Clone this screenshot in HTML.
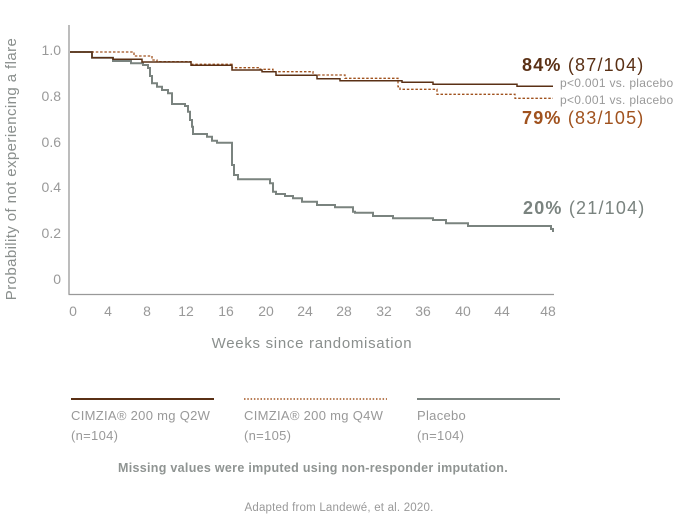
<!DOCTYPE html>
<html><head><meta charset="utf-8"><style>
html,body{margin:0;padding:0;background:#fff;}
svg{display:block;font-family:"Liberation Sans",sans-serif;}
</style></head><body>
<svg width="679" height="517" viewBox="0 0 679 517">
<g stroke="#999" stroke-width="1.3" fill="none">
<line x1="69" y1="25" x2="69" y2="294.5"/>
<line x1="68.5" y1="294.5" x2="554" y2="294.5"/>
</g>
<g fill="#999" font-size="14" text-anchor="end">
<text x="61" y="55">1.0</text><text x="61" y="101">0.8</text><text x="61" y="147">0.6</text>
<text x="61" y="192">0.4</text><text x="61" y="238">0.2</text><text x="61" y="284">0</text>
</g>
<g fill="#999" font-size="14" text-anchor="middle">
<text x="73" y="316">0</text><text x="108" y="316">4</text><text x="147" y="316">8</text>
<text x="186" y="316">12</text><text x="226" y="316">16</text><text x="266" y="316">20</text>
<text x="305" y="316">24</text><text x="344" y="316">28</text><text x="384" y="316">32</text>
<text x="423" y="316">36</text><text x="463" y="316">40</text><text x="502" y="316">44</text>
<text x="548" y="316">48</text>
</g>
<text x="312" y="348" fill="#8a8f8d" font-size="15" letter-spacing="0.7" text-anchor="middle">Weeks since randomisation</text>
<text transform="translate(16,169) rotate(-90)" fill="#8a8f8d" font-size="15" letter-spacing="0.4" text-anchor="middle">Probability of not experiencing a flare</text>

<path fill="none" stroke="#7a837f" stroke-width="2" d="M70,52 H92 V57.7 H113 V61 H131 V63.3 H143 V65 H148 V68 H150 V76 H152 V83.3 H157 V86.7 H162 V90 H168 V93.3 H172 V104 H185 V106 H188 V111.7 H190 V120 H192 V126.7 H193 V134 H207 V136.7 H212 V140.7 H217 V142.7 H232 V165 H234 V175 H238 V179.3 H270 V183.3 H273 V191.7 H276 V194 H285 V196 H293 V198.3 H302 V201.7 H317 V205 H335 V207.3 H353 V211.7 H355 V212.7 H373 V216 H393 V218.3 H433 V220 H446 V223.3 H468 V226 H551 V229 H553 V232"/>
<path fill="none" stroke="#a0521e" stroke-width="1.3" stroke-dasharray="2.5,1.8" d="M70,52 H134 V56 H152 V60 H157 V61.7 H191 V64.3 H232 V67.7 H260 V69.3 H273 V71.7 H313 V75 H345 V78.3 H398 V86.7 H400 V89.3 H437 V94.3 H515 V98.3 H553"/>
<path fill="none" stroke="#5a3015" stroke-width="1.5" d="M70,52 H92 V57.7 H113 V59.3 H142 V62 H191 V65.3 H232 V70 H262 V71.7 H276 V75.3 H317 V78.7 H340 V80.7 H402 V82.3 H433 V84.3 H517 V86.3 H553"/>

<text x="522" y="71" font-size="18" letter-spacing="1.2" fill="#5a3015"><tspan font-weight="bold">84%</tspan> (87/104)</text>
<text x="560" y="87" font-size="12" letter-spacing="0.3" fill="#999">p&lt;0.001 vs. placebo</text>
<text x="560" y="104" font-size="12" letter-spacing="0.3" fill="#999">p&lt;0.001 vs. placebo</text>
<text x="522" y="124" font-size="18" letter-spacing="1.2" fill="#a0521e"><tspan font-weight="bold">79%</tspan> (83/105)</text>
<text x="523" y="214" font-size="18" letter-spacing="1.2" fill="#7a837f"><tspan font-weight="bold">20%</tspan> (21/104)</text>

<line x1="71" y1="399" x2="214" y2="399" stroke="#5a3015" stroke-width="2"/>
<line x1="244" y1="399" x2="387" y2="399" stroke="#a0521e" stroke-width="1.5" stroke-dasharray="1.5,1.8"/>
<line x1="417" y1="399" x2="560" y2="399" stroke="#7a837f" stroke-width="2"/>
<g font-size="13" fill="#999" letter-spacing="0.3">
<text x="71" y="420">CIMZIA® 200 mg Q2W</text><text x="71" y="440">(n=104)</text>
<text x="244" y="420">CIMZIA® 200 mg Q4W</text><text x="244" y="440">(n=105)</text>
<text x="417" y="420">Placebo</text><text x="417" y="440">(n=104)</text>
</g>
<text x="313" y="472" font-size="12.5" font-weight="bold" letter-spacing="0.3" fill="#8f9492" text-anchor="middle">Missing values were imputed using non-responder imputation.</text>
<text x="339" y="511" font-size="11.5" letter-spacing="0.2" fill="#999" text-anchor="middle">Adapted from Landewé, et al. 2020.</text>
</svg>
</body></html>
